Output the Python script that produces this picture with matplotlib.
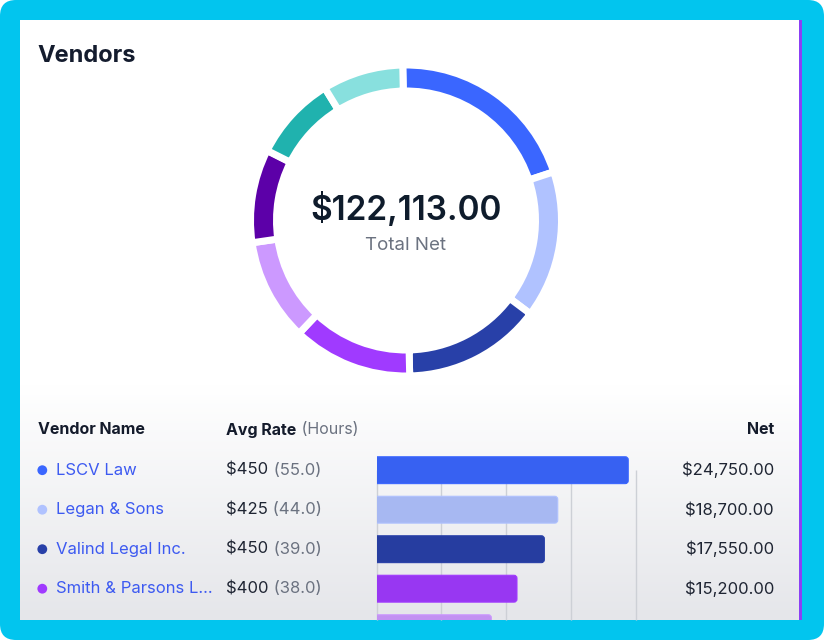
import numpy as np
import matplotlib
matplotlib.use("Agg")
import matplotlib.pyplot as plt
from matplotlib.patches import FancyBboxPatch, Rectangle
from matplotlib.colors import to_rgb

plt.rcParams['font.family'] = ['Inter', 'DejaVu Sans']

# data
vendor_names = ["LSCV Law", "Legan & Sons", "Valind Legal Inc.", "Smith & Parsons L\u2026"]
avg_rates = [450, 425, 450, 400]
hours = [55.0, 44.0, 39.0, 38.0]
# net per vendor (first four are listed, the rest only show in the ring / cut-off rows)
net_values = [24750, 18700, 17550, 15200, 13000, 11860, 10780, 10273]

palette = ['#3a66ff', '#b0c2ff', '#2840a8', '#a03aff',
           '#cc99ff', '#5c00a8', '#20b2ae', '#88e0de']
bar_colors = [tuple(np.array(to_rgb(c)) * 0.95) for c in palette]

W, H = 824, 640
fig = plt.figure(figsize=(W / 100, H / 100), dpi=100)
fig.patch.set_facecolor('white')


def px_rect(x0, y0, x1, y1):
    # pixel box (top-left origin) -> figure fraction rect
    return [x0 / W, 1 - y1 / H, (x1 - x0) / W, (y1 - y0) / H]


# background: cyan frame + panel
bg = fig.add_axes([0, 0, 1, 1])
bg.set_xlim(0, W)
bg.set_ylim(H, 0)
bg.axis('off')
bg.add_patch(FancyBboxPatch((0, 0), W, H, boxstyle="round,pad=0,rounding_size=16",
                            fc='#02c5ee', ec='none', clip_on=False))
bg.add_patch(Rectangle((20, 20), 780, 600, fc='white', ec='none'))
grad = np.linspace(0, 1, 256)[:, None]
top_c = np.array([1.0, 1.0, 1.0])
bot_c = np.array(to_rgb('#e5e6ea'))
img = top_c[None, None, :] * (1 - grad[..., None]) + bot_c[None, None, :] * grad[..., None]
bg.imshow(img, extent=(20, 800, 620, 385), aspect='auto', interpolation='bilinear', zorder=1)
bg.add_patch(Rectangle((799, 20), 3, 600, fc='#8b3ff5', ec='none', zorder=2))

bg.text(37, 56, "Vendors", fontsize=17, fontweight='bold', color='#141c2e',
        ha='left', va='center', zorder=3)

# donut
cx, cy, R, ring, gap = 406, 220.5, 152, 19, 7
dax = fig.add_axes(px_rect(cx - 170, cy - 170, cx + 170, cy + 170))
dax.pie(net_values, colors=palette, startangle=90 + 1.2, counterclock=False,
        radius=R + gap / 2, wedgeprops=dict(width=ring + gap, edgecolor='white',
                                            linewidth=gap * 0.72))
dax.set_xlim(-170, 170)
dax.set_ylim(-170, 170)
dax.set_aspect('equal')
dax.axis('off')

total = sum(net_values)
bg.text(cx, 209, f"${total:,.2f}", fontsize=24, fontweight='semibold', color='#0f1c2c',
        ha='center', va='center', zorder=3)
bg.text(cx, 245, "Total Net", fontsize=13.5, color='#6b7280',
        ha='center', va='center', zorder=3)

# table (clipped at panel bottom)
tax = fig.add_axes(px_rect(20, 395, 799, 620))
tax.set_xlim(20, 799)
tax.set_ylim(620, 395)
tax.axis('off')

head_y = 430
tax.text(38, head_y, "Vendor Name", fontsize=11.5, fontweight='bold', color='#141b2b',
         ha='left', va='center')
t = tax.text(226.5, head_y, "Avg Rate", fontsize=11.5, fontweight='bold', color='#141b2b',
             ha='left', va='center')
tax.annotate(" (Hours)", xy=(1, 0), xycoords=t, ha='left', va='bottom',
             fontsize=11.5, color='#6b7280')
tax.text(774, head_y, "Net", fontsize=11.5, fontweight='bold', color='#141b2b',
         ha='right', va='center')

row0, row_step = 470.2, 39.5
for i, (name, rate, hr, net) in enumerate(zip(vendor_names, avg_rates, hours, net_values)):
    y = row0 + i * row_step
    tax.scatter([42.3], [y], s=50, color=palette[i], edgecolors='none')
    tax.text(56.5, y, name, fontsize=12, color='#3d5af1', ha='left', va='center')
    t = tax.text(226.5, y, f"${rate}", fontsize=12, color='#1f2533', ha='left', va='center')
    tax.annotate(f" ({hr:.1f})", xy=(1, 0), xycoords=t, ha='left', va='bottom',
                 fontsize=12, color='#6b7280')
    tax.text(774, y, f"${net:,.2f}", fontsize=12, color='#1f2533', ha='right', va='center')

# bars
bx0, bx1, by0, by1 = 376.7, 635.7, 450, 620
bax = fig.add_axes(px_rect(bx0, by0, bx1, by1))
bax.patch.set_alpha(0)
x_lo, x_hi = 3160, 25390
y_top = (by0 - row0) / row_step
y_bot = (by1 - row0) / row_step
bax.set_xlim(x_lo, x_hi)
bax.set_ylim(y_bot, y_top)
bax.axis('off')

grid_x = np.linspace(x_lo, x_hi, 5)
bax.vlines(grid_x, 0, y_bot, colors='#cdd0d6', linewidth=1.0, zorder=0, clip_on=False)

rows = np.arange(len(net_values))
bars = bax.barh(rows, net_values, height=0.68, color=bar_colors, zorder=2)
x_per_px = (x_hi - x_lo) / (bx1 - bx0)
y_per_px = (y_bot - y_top) / (by1 - by0)
for rect, fc, ec in zip(bars, bar_colors, palette):
    rect.set_visible(False)
    rb = FancyBboxPatch((rect.get_x(), rect.get_y()), rect.get_width(), rect.get_height(),
                        boxstyle=f"round,pad=0,rounding_size={3 * x_per_px}",
                        mutation_aspect=y_per_px / x_per_px,
                        fc=fc, ec=ec, linewidth=0.8, zorder=2)
    bax.add_patch(rb)

fig.savefig("out.png", dpi=100)
